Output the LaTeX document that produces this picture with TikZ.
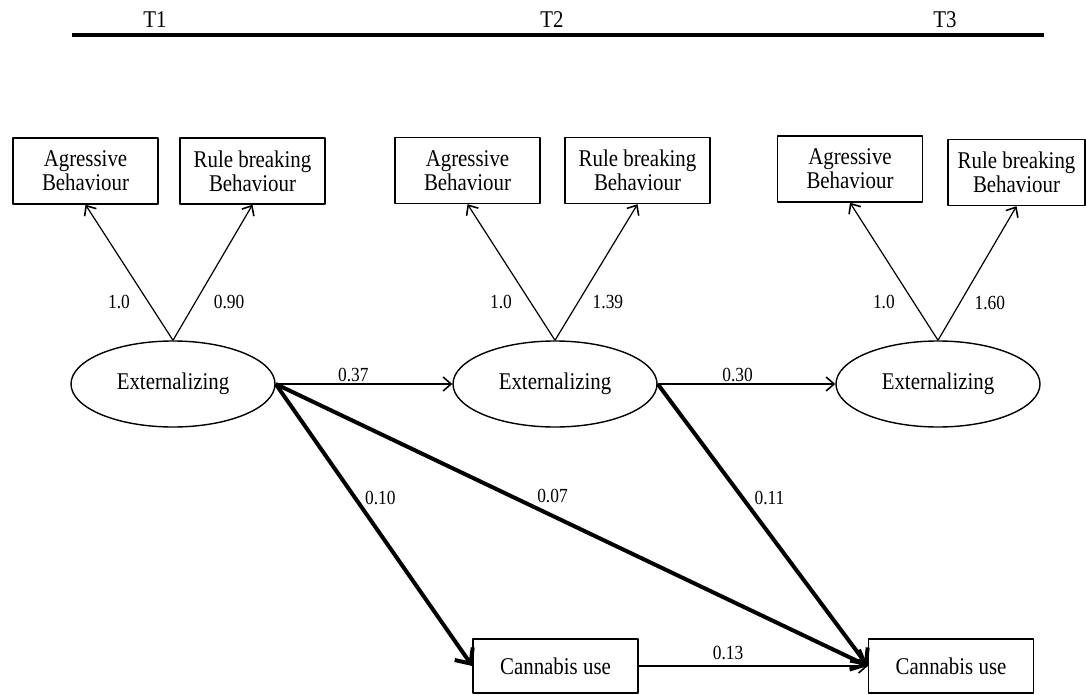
\documentclass[tikz,border=0pt]{standalone}
\usepackage{fontspec}
\setmainfont[FakeStretch=0.87]{Liberation Serif}
\usetikzlibrary{shapes.geometric,arrows.meta}

\begin{document}
\begin{tikzpicture}[x=0.5pt, y=-0.5pt, line join=round,
  obsbox/.style={draw, line width=0.7pt, inner sep=0pt, minimum width=72.5pt, minimum height=33pt, align=center, font=\fontsize{12}{12}\selectfont},
  latent/.style={draw, ellipse, line width=0.7pt, inner sep=0pt, minimum width=102pt, minimum height=43pt, font=\fontsize{12}{14}\selectfont},
  usebox/.style={draw, line width=0.7pt, inner sep=0pt, minimum width=82.5pt, minimum height=27pt, font=\fontsize{12}{14}\selectfont},
  loadarrow/.style={line width=0.6pt, -{Straight Barb[length=4pt,width=7pt,line width=0.8pt]}},
  regarrow/.style={line width=0.6pt, -{Straight Barb[length=4pt,width=7pt,line width=0.8pt]}},
  bigarrow/.style={line width=2pt, -{Straight Barb[length=6pt,width=11pt,line width=2pt]}},
  lbl/.style={inner sep=1pt, font=\fontsize{10}{12}\selectfont},
  wave/.style={inner sep=0pt, font=\fontsize{12}{14}\selectfont}]

  \useasboundingbox (0,0) rectangle (1086,695);

  % Time points
  \node[wave] (t1) at (155,20) {T1};
  \node[wave] (t2) at (552,20) {T2};
  \node[wave] (t3) at (945,20) {T3};
  \coordinate (lstart) at (72,35);
  \coordinate (lend) at (1044,35);
  \draw[line width=1.6pt] (lstart) -- (lend);

  % Indicators
  \node[obsbox] (agr1) at (85.5,171) {Agressive\\Behaviour};
  \node[obsbox] (rul1) at (252.5,171) {Rule breaking\\Behaviour};
  \node[obsbox] (agr2) at (467.5,170.5) {Agressive\\Behaviour};
  \node[obsbox] (rul2) at (637.5,170.5) {Rule breaking\\Behaviour};
  \node[obsbox] (agr3) at (850,169) {Agressive\\Behaviour};
  \node[obsbox, minimum width=68.5pt] (rul3) at (1016.5,172.5) {Rule breaking\\Behaviour};

  % Latent factors
  \node[latent] (ext1) at (173,384) {Externalizing};
  \node[latent] (ext2) at (555,384) {Externalizing};
  \node[latent] (ext3) at (938,384) {Externalizing};

  % Cannabis use
  \node[usebox] (can2) at (555.5,666) {Cannabis use};
  \node[usebox] (can3) at (951,666) {Cannabis use};

  % Loadings
  \draw[loadarrow] (ext1.north) -- node[lbl, pos=.28, left=8pt] {1.0} (agr1.south);
  \draw[loadarrow] (ext1.north) -- node[lbl, pos=.28, right=8pt] {0.90} (rul1.south);
  \draw[loadarrow] (ext2.north) -- node[lbl, pos=.28, left=8pt] {1.0} (agr2.south);
  \draw[loadarrow] (ext2.north) -- node[lbl, pos=.28, right=6pt] {1.39} (rul2.south);
  \draw[loadarrow] (ext3.north) -- node[lbl, pos=.28, left=8pt] {1.0} (agr3.south);
  \draw[loadarrow] (ext3.north) -- node[lbl, pos=.28, right=6pt] {1.60} (rul3.south);

  % Stability paths
  \draw[regarrow] (ext1.east) -- node[lbl, pos=.44, above] {0.37} (ext2.west);
  \draw[regarrow] (ext2.east) -- node[lbl, pos=.45, above] {0.30} (ext3.west);
  \draw[regarrow] (can2.east) -- node[lbl, pos=.39, above=2pt] {0.13} (can3.west);

  % Cross-lagged paths
  \draw[bigarrow] (ext1.east) -- node[lbl, pos=.404, right=3pt] {0.10} (can2.west);
  \draw[bigarrow] (ext1.east) -- node[lbl, pos=.435, anchor=south west] {0.07} (can3.west);
  \draw[bigarrow] (ext2.east) -- node[lbl, pos=.404, right=4pt] {0.11} (can3.west);

\end{tikzpicture}
\end{document}
